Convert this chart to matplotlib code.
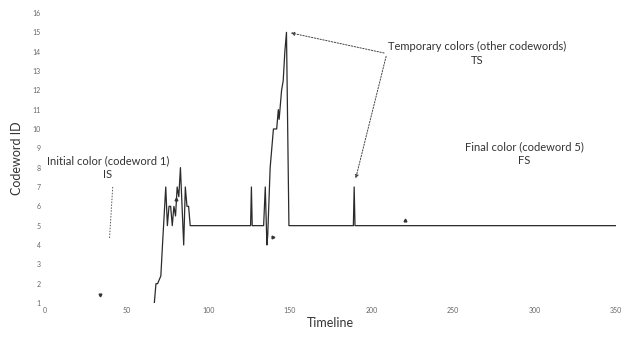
import matplotlib
matplotlib.use("Agg")
import matplotlib.pyplot as plt

# codeword id over the timeline
t = [67, 68, 69, 71, 72, 73, 74, 75, 76, 77, 78, 79, 80, 81, 82, 83, 84, 85,
     86, 87, 88, 89, 90, 126, 126.5, 127, 134, 135, 136, 136.5, 138, 140, 142,
     143, 143.5, 144, 145, 146, 147, 148, 149.5, 189, 189.5, 190, 350]
cw = [1, 2, 2, 2.4, 4, 5.5, 7, 5, 6, 6, 5, 6, 5.5, 7, 6.5, 8, 6, 4, 7, 6,
      6, 5, 5, 5, 7, 5, 5, 7, 4, 4.5, 8, 10, 10, 11, 10.5, 11, 12, 12.5, 14, 15,
      5, 5, 7, 5, 5]

# annotations: (text, x, y)
labels = [("Initial color (codeword 1)\nIS", 38.5, 8.0),
          ("Temporary colors (other codewords)\nTS", 265, 13.9),
          ("Final color (codeword 5)\nFS", 294, 8.7)]
ts_anchor = (209.5, 13.9)
ts_targets = [(149, 15), (190, 7.3)]

plt.rcParams['font.family'] = ['Lato', 'DejaVu Sans']

fig = plt.figure(figsize=(6.27, 3.38), dpi=100)
ax = fig.add_axes([0.0718, 0.1036, 0.9107, 0.858])

ax.plot(t, cw, color='#2b2b2b', lw=0.9)

for txt, x, y in labels:
    ax.text(x, y, txt, ha='center', va='center', fontsize=8,
            color='#333333', linespacing=1.3)

# dashed leader lines
ax.plot([41.5, 39.5], [7.0, 4.3], ls=(0, (1.5, 1.5)), color='#555555', lw=0.7)
for tx, ty in ts_targets:
    ax.annotate('', xy=(tx, ty), xytext=ts_anchor,
                arrowprops=dict(arrowstyle='-|>', ls=(0, (1.5, 1.5)),
                                color='#444444', lw=0.7,
                                mutation_scale=5))

# stray arrowheads
ax.plot([33.7], [1.4], marker='v', ms=2, color='#333333')
ax.plot([139.5], [4.4], marker='>', ms=2, color='#333333')
ax.plot([220.5], [5.3], marker='^', ms=2, color='#333333')
ax.plot([80.5], [6.4], marker='^', ms=2, color='#333333')

ax.set_xlim(0, 350)
ax.set_ylim(1, 16)
ax.set_xticks(range(0, 351, 50))
ax.set_yticks(range(1, 17))
ax.tick_params(length=0, labelsize=5, colors='#666666', pad=3)
for s in ax.spines.values():
    s.set_visible(False)

ax.set_xlabel("Timeline", fontsize=9, color='#333333', labelpad=2)
ax.set_ylabel("Codeword ID", fontsize=9, color='#333333', labelpad=7)

fig.savefig("out.png", dpi=100)
